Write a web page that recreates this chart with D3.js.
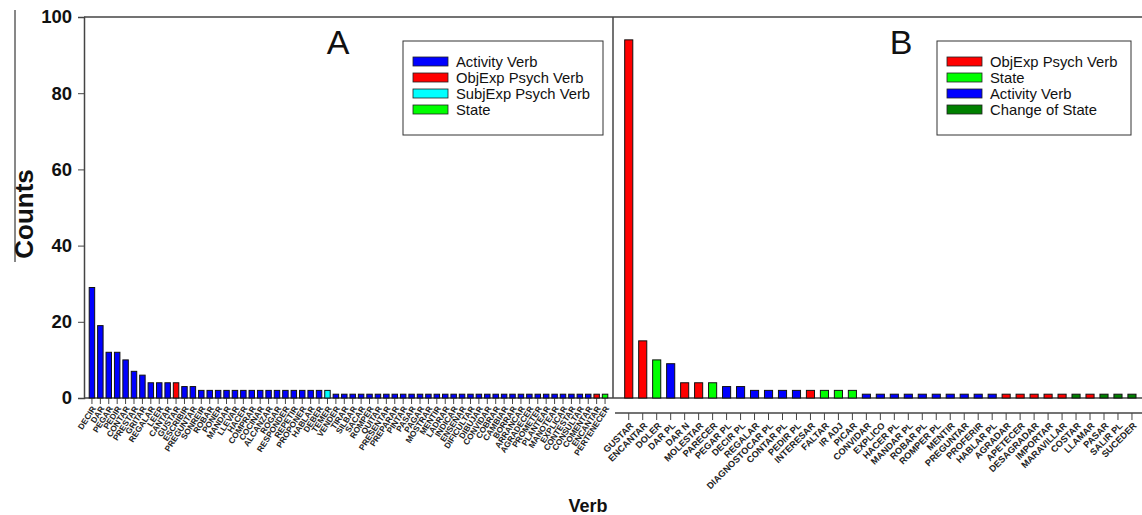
<!DOCTYPE html>
<html>
<head>
<meta charset="utf-8">
<script src="https://cdn.jsdelivr.net/npm/d3@7"></script>
<style>
  body { margin: 0; background: #fff; }
  svg { font-family: Arial, "Liberation Sans", sans-serif; }
</style>
</head>
<body>
<div id="chart"></div>
<script>
// data, panel A
var verbsA = ['DECIR','DAR','PEGAR','PEDIR','CONTAR','PRESTAR','GRITAR','REGALAR','LEER','CANTAR',
  'GUSTAR','ESCRIBIR','PREGUNTAR','SONREIR','ROBAR','PONER','MANDAR','LLEVAR','HACER','COMPRAR',
  'COCINAR','ALCANZAR','ROGAR','RESPONDER','REPETIR','PROPONER','HABLAR','DEBER','TEMER','VENDER',
  'TIRAR','SILBAR','SACAR','ROMPER','QUITAR','PRESENTAR','PREPARAR','PINTAR','PASAR','PAGAR',
  'MOSTRAR','MENTIR','LADRAR','INDICAR','ENSEÑAR','DIFICULTAR','DIBUJAR','CONVIDAR','COBRAR','CAMBIAR',
  'BORRAR','ARRANCAR','AGRADECER','PROMETER','PLANTEAR','MANOTEAR','EXPLICAR','CONTESTAR','CONSULTAR','COMENTAR',
  'ENCANTAR','PERTENECER'];
var countsA = [29,19,12,12,10,7,6,4,4,4,
  4,3,3,2,2,2,2,2,2,2,
  2,2,2,2,2,2,2,2,2,1,
  1,1,1,1,1,1,1,1,1,1,
  1,1,1,1,1,1,1,1,1,1,
  1,1,1,1,1,1,1,1,1,1,
  1,1];
// a = activity, o = objexp psych, s = subjexp psych, t = state, c = change of state
var typesA = ('aaaaaaaaaa' + 'o' + 'aaaaaaaaaaaaaaaaa' + 's' +
  'aaaaaaaaaaaaaaaaaaaaaaaaaaaaaaa' + 'o' + 't').split('');

// data, panel B
var verbsB = ['GUSTAR','ENCANTAR','DOLER','DAR PL','DAR N','MOLESTAR','PARECER','PEGAR PL','DECIR PL','REGALAR',
  'DIAGNOSTOCAR PL','CONTAR PL','PEDIR PL','INTERESAR','FALTAR','IR ADJ','PICAR','CONVIDAR','EXPLICO','HACER PL',
  'MANDAR PL','ROBAR PL','ROMPER PL','MENTIR','PREGUNTAR','PROFERIR','HABLAR PL','AGRADAR','APETECER','DESAGRADAR',
  'IMPORTAR','MARAVILLAR','COSTAR','LLAMAR','PASAR','SALIR PL','SUCEDER'];
var countsB = [94,15,10,9,4,4,4,3,3,2,
  2,2,2,2,2,2,2,1,1,1,
  1,1,1,1,1,1,1,1,1,1,
  1,1,1,1,1,1,1];
var typesB = ('oot' + 'a' + 'oo' + 't' + 'aaaaaa' + 'o' + 'ttt' +
  'aaaaaaaaaa' + 'ooooo' + 'c' + 'o' + 'ccc').split('');

var yTicks = [0,20,40,60,80,100];
var legendA = [['a','Activity Verb'],['o','ObjExp Psych Verb'],['s','SubjExp Psych Verb'],['t','State']];
var legendB = [['o','ObjExp Psych Verb'],['t','State'],['a','Activity Verb'],['c','Change of State']];

var colors = { a: '#0000ff', o: '#ff0000', s: '#00ffff', t: '#00ff00', c: '#008000' };

// layout
var W = 1142, H = 515,
    yTop = 17, base = 398, split = 613;

var svg = d3.select('#chart').append('svg')
  .attr('width', W).attr('height', H);

var y = d3.scaleLinear().domain([0, 100]).range([base, yTop]);

var xA = d3.scaleBand().domain(verbsA).range([85, 612]).paddingInner(0.35).paddingOuter(0.5);
var xB = d3.scaleBand().domain(verbsB).range([617.7, 1143]).paddingInner(0.42).paddingOuter(0.5);

var axisColor = '#444';

// frame lines
svg.append('line').attr('x1', 84).attr('x2', W).attr('y1', yTop).attr('y2', yTop)
  .attr('stroke', axisColor).attr('stroke-width', 1.5);
svg.append('line').attr('x1', split).attr('x2', split).attr('y1', yTop).attr('y2', base)
  .attr('stroke', axisColor).attr('stroke-width', 1.5);
svg.append('line').attr('x1', split).attr('x2', W).attr('y1', base).attr('y2', base)
  .attr('stroke', axisColor).attr('stroke-width', 1.5);

// y axis
var gy = svg.append('g').attr('transform', 'translate(84,0)')
  .call(d3.axisLeft(y).tickValues(yTicks).tickSize(6).tickPadding(6));
gy.select('.domain').attr('stroke', axisColor).attr('stroke-width', 1.5);
gy.selectAll('.tick line').attr('stroke', axisColor);
gy.selectAll('.tick text').attr('font-size', 18.5).attr('font-weight', 'bold')
  .attr('fill', '#111').attr('font-family', 'Arial, "Liberation Sans", sans-serif');

// x axis A
var gxA = svg.append('g').attr('transform', 'translate(0,' + base + ')')
  .call(d3.axisBottom(xA).tickSize(6).tickSizeOuter(0));
gxA.select('.domain').attr('stroke', axisColor).attr('stroke-width', 1.5)
  .attr('d', 'M84,0H' + split);
gxA.selectAll('.tick line').attr('stroke', axisColor);
gxA.selectAll('.tick text')
  .attr('font-size', 8.3).attr('font-weight', 'bold').attr('fill', '#222')
  .attr('font-family', 'Arial, "Liberation Sans", sans-serif')
  .attr('text-anchor', 'end')
  .attr('transform', 'translate(2,9) rotate(-57)')
  .attr('x', 0).attr('y', 0).attr('dy', '0.35em');

// x axis B (offset below)
var gxB = svg.append('g').attr('transform', 'translate(0,413)')
  .call(d3.axisBottom(xB).tickSize(7).tickSizeOuter(0));
gxB.select('.domain').attr('stroke', axisColor).attr('stroke-width', 1.5)
  .attr('d', 'M615,0H' + W);
gxB.selectAll('.tick line').attr('stroke', axisColor);
gxB.selectAll('.tick text')
  .attr('font-size', 9.2).attr('font-weight', 'bold').attr('fill', '#222')
  .attr('font-family', 'Arial, "Liberation Sans", sans-serif')
  .attr('text-anchor', 'end')
  .attr('transform', 'translate(3,11) rotate(-45)')
  .attr('x', 0).attr('y', 0).attr('dy', '0.35em');

// bars
svg.append('g').selectAll('rect')
  .data(verbsA.map(function(v, i) { return { v: v, n: countsA[i], t: typesA[i] }; }))
  .join('rect')
  .attr('x', function(d) { return xA(d.v); })
  .attr('width', xA.bandwidth())
  .attr('y', function(d) { return y(d.n); })
  .attr('height', function(d) { return base - y(d.n); })
  .attr('fill', function(d) { return colors[d.t]; })
  .attr('stroke', '#111').attr('stroke-width', 1);

svg.append('g').selectAll('rect')
  .data(verbsB.map(function(v, i) { return { v: v, n: countsB[i], t: typesB[i] }; }))
  .join('rect')
  .attr('x', function(d) { return xB(d.v); })
  .attr('width', xB.bandwidth())
  .attr('y', function(d) { return y(d.n); })
  .attr('height', function(d) { return base - y(d.n); })
  .attr('fill', function(d) { return colors[d.t]; })
  .attr('stroke', '#111').attr('stroke-width', 1);

// panel letters
svg.append('text').text('A').attr('x', 338).attr('y', 54)
  .attr('text-anchor', 'middle').attr('font-size', 34).attr('fill', '#111');
svg.append('text').text('B').attr('x', 901).attr('y', 54)
  .attr('text-anchor', 'middle').attr('font-size', 34).attr('fill', '#111');

// legends
function legend(x0, w, items) {
  var g = svg.append('g').attr('transform', 'translate(' + x0 + ',41)');
  g.append('rect').attr('width', w).attr('height', 94)
    .attr('fill', '#fff').attr('stroke', '#333').attr('stroke-width', 1);
  items.forEach(function(it, i) {
    g.append('rect').attr('x', 10).attr('y', 16 + i * 16).attr('width', 35).attr('height', 9)
      .attr('fill', colors[it[0]]).attr('stroke', '#222').attr('stroke-width', 0.8);
    g.append('text').text(it[1]).attr('x', 53).attr('y', 25.5 + i * 16)
      .attr('font-size', 14.8).attr('fill', '#111');
  });
}
legend(403, 200, legendA);
legend(937, 194, legendB);

// axis titles
svg.append('text').text('Counts')
  .attr('transform', 'translate(33,214) rotate(-90)')
  .attr('text-anchor', 'middle').attr('font-size', 26).attr('font-weight', 'bold').attr('fill', '#111');
svg.append('line').attr('x1', 15).attr('x2', 15).attr('y1', 10).attr('y2', 262)
  .attr('stroke', '#111').attr('stroke-width', 1);
svg.append('text').text('Verb')
  .attr('x', 588).attr('y', 512)
  .attr('text-anchor', 'middle').attr('font-size', 18).attr('font-weight', 'bold').attr('fill', '#111');
</script>
</body>
</html>
